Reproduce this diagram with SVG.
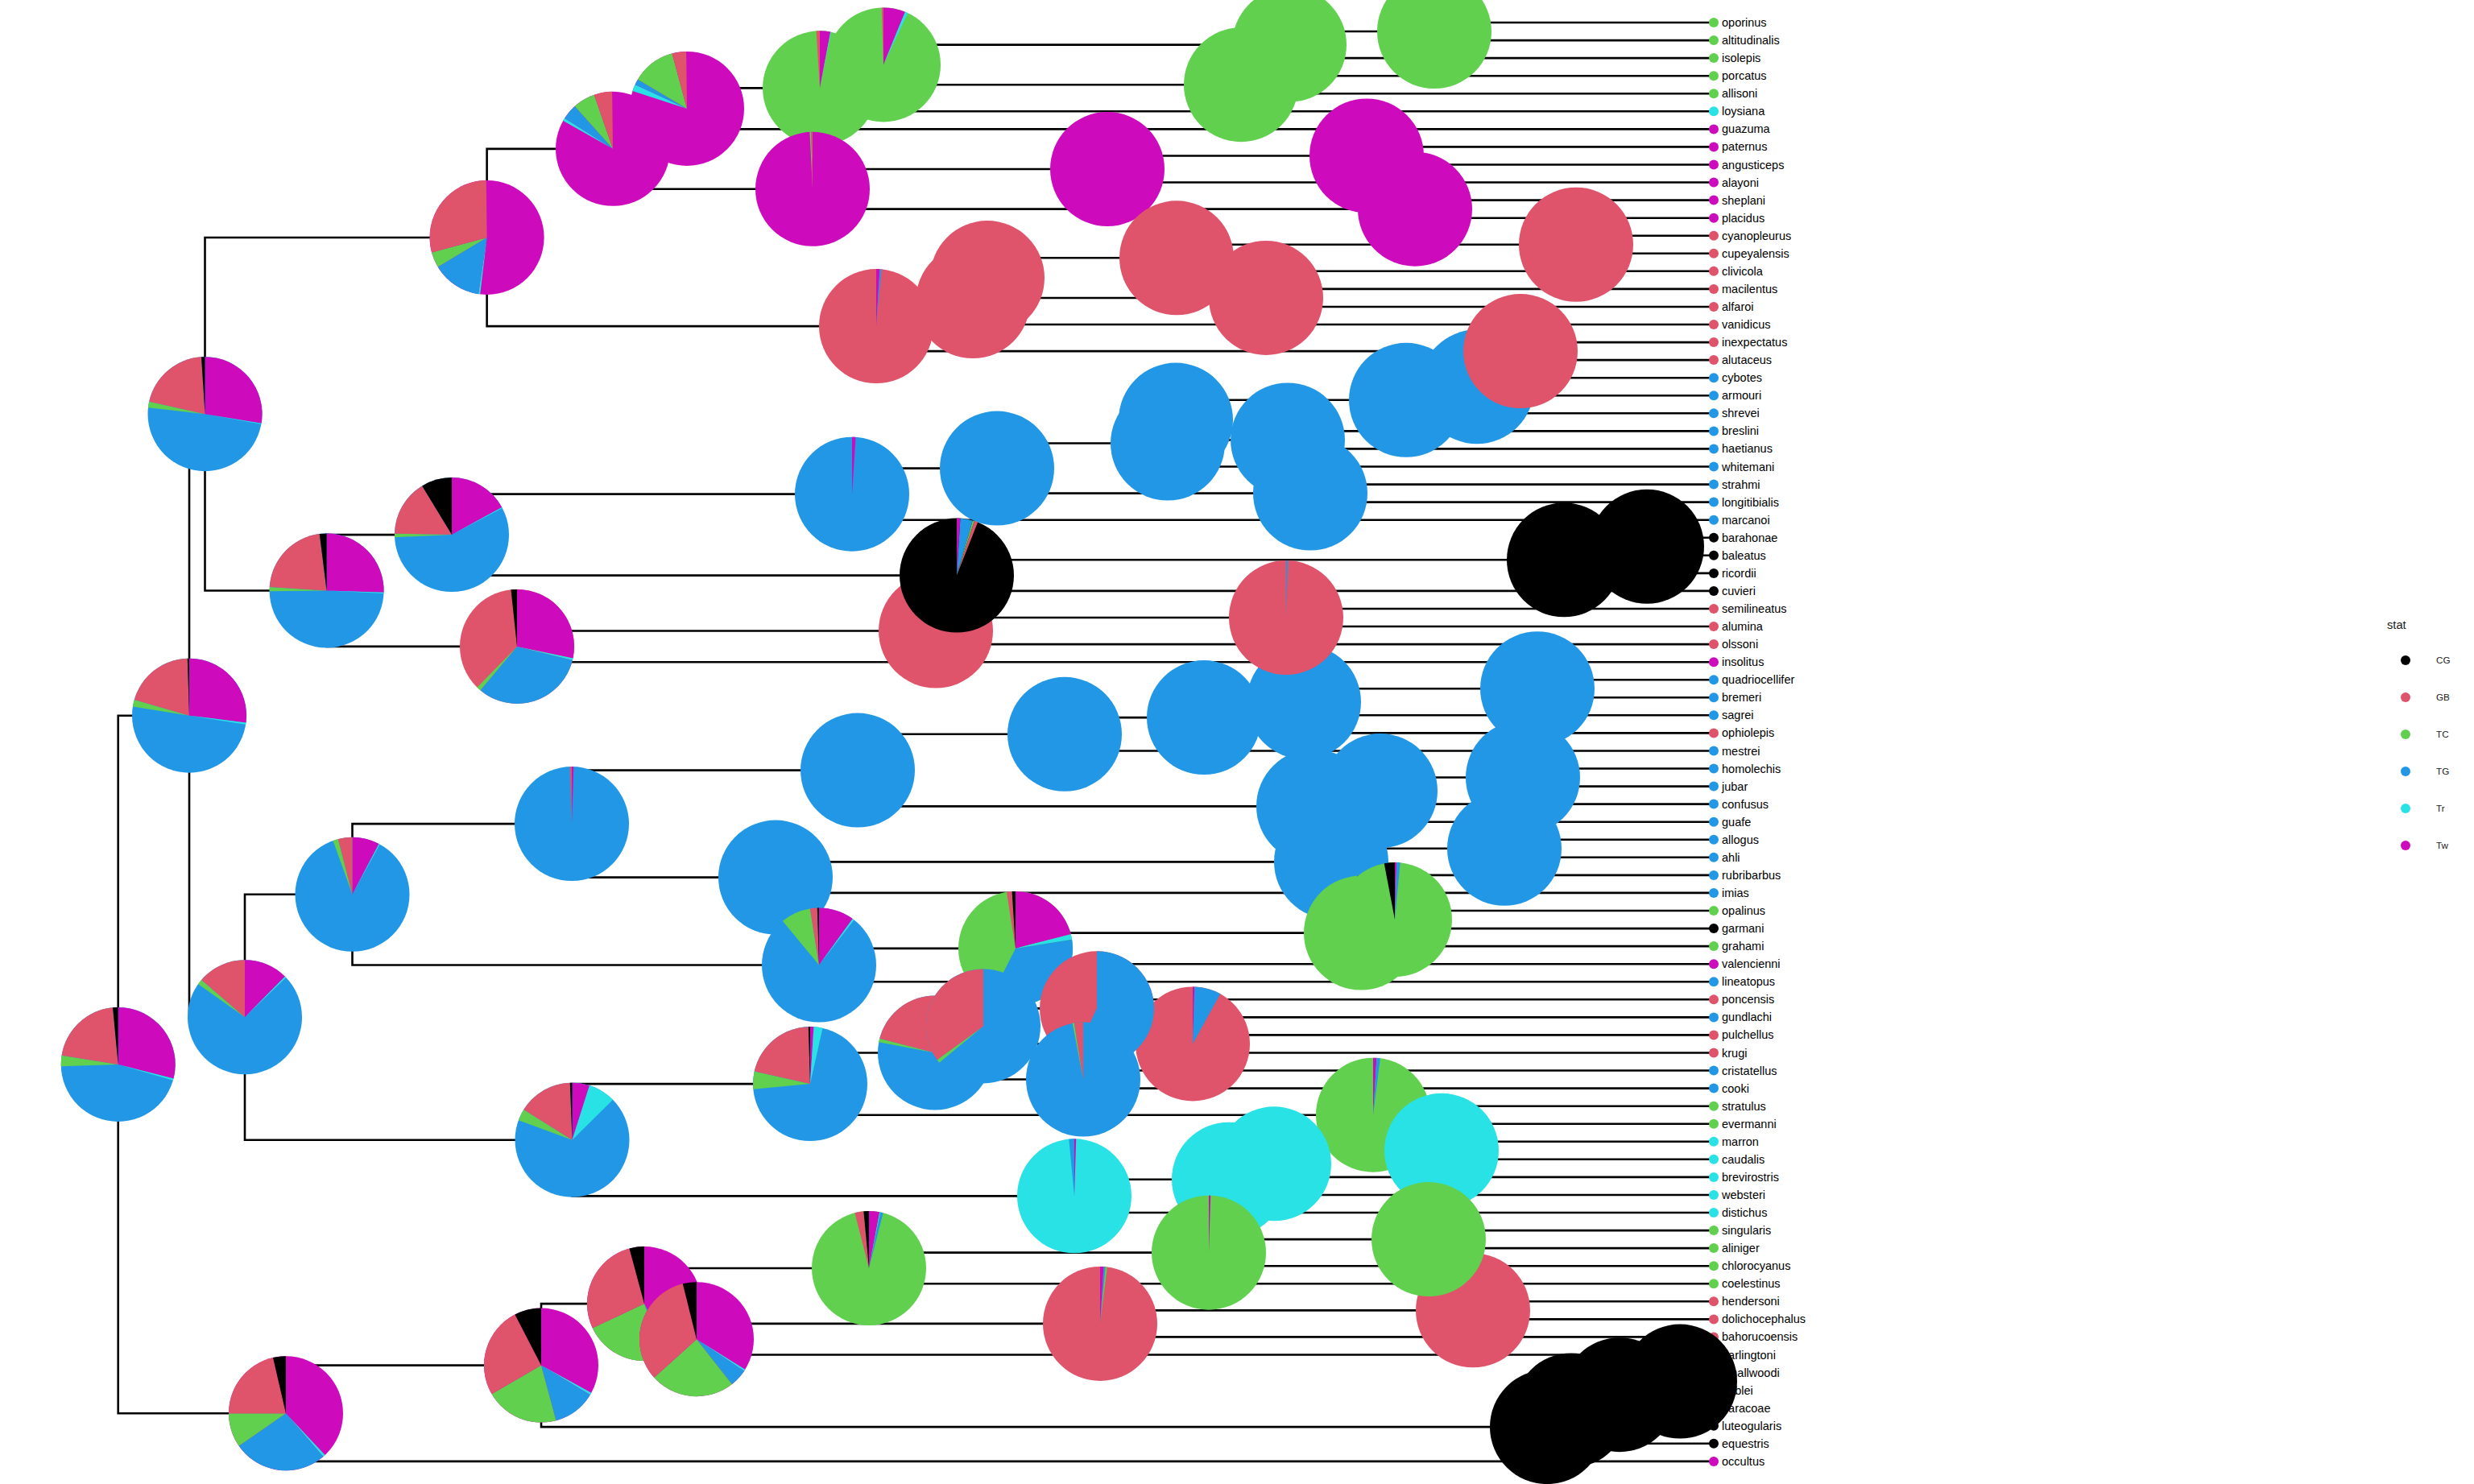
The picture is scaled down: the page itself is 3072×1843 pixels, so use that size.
<svg xmlns="http://www.w3.org/2000/svg" width="3072" height="1843" viewBox="0 0 3072 1843">
<style>
.cg{fill:#000000}.gb{fill:#DF536B}.tc{fill:#61D04F}.tg{fill:#2297E6}.tr{fill:#28E2E5}.tw{fill:#CD0BBC}
.e{fill:none;stroke:#000;stroke-width:2.6;stroke-linecap:square}
.lab{font-family:"Liberation Sans",Arial,sans-serif;font-size:14.5px;fill:#000}
.lg{font-family:"Liberation Sans",Arial,sans-serif;font-size:11.7px;fill:#1a1a1a}
.lt{font-family:"Liberation Sans",Arial,sans-serif;font-size:14.7px;fill:#1a1a1a}
</style>
<rect width="3072" height="1843" fill="#fff"/>
<g id="connectors">
<path class="e" d="M146.7,888.7V1755.25M146.7,888.7H235M146.7,1755.25H355"/>
<path class="e" d="M235,514.2V1263.25M235,514.2H254.5M235,1263.25H304"/>
<path class="e" d="M355,1695.6V1814.9M355,1695.6H672M355,1814.9H2128"/>
<path class="e" d="M254.5,294.95V733.5M254.5,294.95H604.6M254.5,733.5H405.6"/>
<path class="e" d="M604.6,184.85V405.1M604.6,184.85H761M604.6,405.1H1088"/>
<path class="e" d="M761,134.9V234.8M761,134.9H853M761,234.8H1009"/>
<path class="e" d="M853,109.35V160.4M853,109.35H1018M853,160.4H2128"/>
<path class="e" d="M1018,80.4V138.3M1018,80.4H1097M1018,138.3H2128"/>
<path class="e" d="M1097,55.6V105.2M1097,55.6H1601M1097,105.2H1541"/>
<path class="e" d="M1601,39.05V72.1M1601,39.05H1781M1601,72.1H2128"/>
<path class="e" d="M1781,28V50.1M1781,28H2128M1781,50.1H2128"/>
<path class="e" d="M1541,94.2V116.2M1541,94.2H2128M1541,116.2H2128"/>
<path class="e" d="M1009,210V259.65M1009,210H1375M1009,259.65H1757"/>
<path class="e" d="M1375,193.45V226.5M1375,193.45H1697M1375,226.5H2128"/>
<path class="e" d="M1697,182.4V204.5M1697,182.4H2128M1697,204.5H2128"/>
<path class="e" d="M1757,248.6V270.7M1757,248.6H2128M1757,270.7H2128"/>
<path class="e" d="M1088,374.05V436.1M1088,374.05H1208M1088,436.1H1888"/>
<path class="e" d="M1208,345.1V403M1208,345.1H1226M1208,403H2128"/>
<path class="e" d="M1226,320.3V369.95M1226,320.3H1461M1226,369.95H1572"/>
<path class="e" d="M1461,303.75V336.8M1461,303.75H1957M1461,336.8H2128"/>
<path class="e" d="M1957,292.7V314.8M1957,292.7H2128M1957,314.8H2128"/>
<path class="e" d="M1572,358.9V381M1572,358.9H2128M1572,381H2128"/>
<path class="e" d="M1888,425.1V447.1M1888,425.1H2128M1888,447.1H2128"/>
<path class="e" d="M405.6,664.1V802.9M405.6,664.1H561M405.6,802.9H642"/>
<path class="e" d="M561,613.65V714.6M561,613.65H1058M561,714.6H1188"/>
<path class="e" d="M1058,581.6V645.7M1058,581.6H1238M1058,645.7H2128"/>
<path class="e" d="M1238,550.55V612.6M1238,550.55H1450M1238,612.6H1627"/>
<path class="e" d="M1450,521.6V579.5M1450,521.6H1460M1450,579.5H2128"/>
<path class="e" d="M1460,496.8V546.4M1460,496.8H1746M1460,546.4H1599"/>
<path class="e" d="M1746,480.25V513.3M1746,480.25H1834M1746,513.3H2128"/>
<path class="e" d="M1834,469.2V491.3M1834,469.2H2128M1834,491.3H2128"/>
<path class="e" d="M1599,535.4V557.4M1599,535.4H2128M1599,557.4H2128"/>
<path class="e" d="M1627,601.6V623.6M1627,601.6H2128M1627,623.6H2128"/>
<path class="e" d="M1188,695.3V733.9M1188,695.3H1942M1188,733.9H2128"/>
<path class="e" d="M1942,678.75V711.9M1942,678.75H2045M1942,711.9H2128"/>
<path class="e" d="M2045,667.7V689.8M2045,667.7H2128M2045,689.8H2128"/>
<path class="e" d="M642,783.55V822.2M642,783.55H1162M642,822.2H2128"/>
<path class="e" d="M1162,767V800.1M1162,767H1597M1162,800.1H2128"/>
<path class="e" d="M1597,756V778M1597,756H2128M1597,778H2128"/>
<path class="e" d="M304,1110.8V1415.7M304,1110.8H437.5M304,1415.7H710.5"/>
<path class="e" d="M437.5,1023.1V1198.55M437.5,1023.1H710M437.5,1198.55H1017"/>
<path class="e" d="M710,956.6V1089.6M710,956.6H1065M710,1089.6H963"/>
<path class="e" d="M1065,911.8V1001.4M1065,911.8H1322M1065,1001.4H1631"/>
<path class="e" d="M1322,891.1V932.5M1322,891.1H1495M1322,932.5H2128"/>
<path class="e" d="M1495,871.8V910.4M1495,871.8H1619M1495,910.4H2128"/>
<path class="e" d="M1619,855.25V888.3M1619,855.25H1909M1619,888.3H2128"/>
<path class="e" d="M1909,844.2V866.3M1909,844.2H2128M1909,866.3H2128"/>
<path class="e" d="M1631,982.1V1020.7M1631,982.1H1714M1631,1020.7H2128"/>
<path class="e" d="M1714,965.55V998.6M1714,965.55H1891M1714,998.6H2128"/>
<path class="e" d="M1891,954.5V976.6M1891,954.5H2128M1891,976.6H2128"/>
<path class="e" d="M963,1070.35V1108.9M963,1070.35H1653M963,1108.9H2128"/>
<path class="e" d="M1653,1053.8V1086.9M1653,1053.8H1868M1653,1086.9H2128"/>
<path class="e" d="M1868,1042.8V1064.8M1868,1042.8H2128M1868,1064.8H2128"/>
<path class="e" d="M1017,1177.9V1219.2M1017,1177.9H1261M1017,1219.2H2128"/>
<path class="e" d="M1261,1158.6V1197.2M1261,1158.6H1690M1261,1197.2H2128"/>
<path class="e" d="M1690,1142.05V1175.1M1690,1142.05H1732M1690,1175.1H2128"/>
<path class="e" d="M1732,1131V1153.1M1732,1131H2128M1732,1153.1H2128"/>
<path class="e" d="M710.5,1346.1V1485.35M710.5,1346.1H1006M710.5,1485.35H1334"/>
<path class="e" d="M1006,1307.5V1384.7M1006,1307.5H1161M1006,1384.7H1705"/>
<path class="e" d="M1161,1274.4V1340.55M1161,1274.4H1221M1161,1340.55H1345"/>
<path class="e" d="M1221,1252.35V1296.45M1221,1252.35H1362M1221,1296.45H1481"/>
<path class="e" d="M1362,1241.3V1263.4M1362,1241.3H2128M1362,1263.4H2128"/>
<path class="e" d="M1481,1285.4V1307.5M1481,1285.4H2128M1481,1307.5H2128"/>
<path class="e" d="M1345,1329.5V1351.6M1345,1329.5H2128M1345,1351.6H2128"/>
<path class="e" d="M1705,1373.7V1395.7M1705,1373.7H2128M1705,1395.7H2128"/>
<path class="e" d="M1334,1464.7V1506M1334,1464.7H1526M1334,1506H2128"/>
<path class="e" d="M1526,1445.35V1484M1526,1445.35H1582M1526,1484H2128"/>
<path class="e" d="M1582,1428.8V1461.9M1582,1428.8H1790M1582,1461.9H2128"/>
<path class="e" d="M1790,1417.8V1439.8M1790,1417.8H2128M1790,1439.8H2128"/>
<path class="e" d="M672,1619.1V1772.1M672,1619.1H800M672,1772.1H1921"/>
<path class="e" d="M800,1575V1663.2M800,1575H1079M800,1663.2H865"/>
<path class="e" d="M1079,1555.65V1594.3M1079,1555.65H1501M1079,1594.3H2128"/>
<path class="e" d="M1501,1539.1V1572.2M1501,1539.1H1774M1501,1572.2H2128"/>
<path class="e" d="M1774,1528.1V1550.1M1774,1528.1H2128M1774,1550.1H2128"/>
<path class="e" d="M865,1643.9V1682.5M865,1643.9H1366M865,1682.5H2128"/>
<path class="e" d="M1366,1627.35V1660.4M1366,1627.35H1829M1366,1660.4H2128"/>
<path class="e" d="M1829,1616.3V1638.4M1829,1616.3H2128M1829,1638.4H2128"/>
<path class="e" d="M1921,1751.4V1792.8M1921,1751.4H1951M1921,1792.8H2128"/>
<path class="e" d="M1951,1732.15V1770.7M1951,1732.15H2011M1951,1770.7H2128"/>
<path class="e" d="M2011,1715.6V1748.7M2011,1715.6H2086M2011,1748.7H2128"/>
<path class="e" d="M2086,1704.6V1726.6M2086,1704.6H2128M2086,1726.6H2128"/>
</g>
<g id="tips">
<g id="tip-oporinus"><circle class="tc" cx="2128" cy="28" r="6"/><text class="lab" x="2138" y="33">oporinus</text></g>
<g id="tip-altitudinalis"><circle class="tc" cx="2128" cy="50.1" r="6"/><text class="lab" x="2138" y="55.1">altitudinalis</text></g>
<g id="tip-isolepis"><circle class="tc" cx="2128" cy="72.1" r="6"/><text class="lab" x="2138" y="77.1">isolepis</text></g>
<g id="tip-porcatus"><circle class="tc" cx="2128" cy="94.2" r="6"/><text class="lab" x="2138" y="99.2">porcatus</text></g>
<g id="tip-allisoni"><circle class="tc" cx="2128" cy="116.2" r="6"/><text class="lab" x="2138" y="121.2">allisoni</text></g>
<g id="tip-loysiana"><circle class="tr" cx="2128" cy="138.3" r="6"/><text class="lab" x="2138" y="143.3">loysiana</text></g>
<g id="tip-guazuma"><circle class="tw" cx="2128" cy="160.4" r="6"/><text class="lab" x="2138" y="165.4">guazuma</text></g>
<g id="tip-paternus"><circle class="tw" cx="2128" cy="182.4" r="6"/><text class="lab" x="2138" y="187.4">paternus</text></g>
<g id="tip-angusticeps"><circle class="tw" cx="2128" cy="204.5" r="6"/><text class="lab" x="2138" y="209.5">angusticeps</text></g>
<g id="tip-alayoni"><circle class="tw" cx="2128" cy="226.5" r="6"/><text class="lab" x="2138" y="231.5">alayoni</text></g>
<g id="tip-sheplani"><circle class="tw" cx="2128" cy="248.6" r="6"/><text class="lab" x="2138" y="253.6">sheplani</text></g>
<g id="tip-placidus"><circle class="tw" cx="2128" cy="270.7" r="6"/><text class="lab" x="2138" y="275.7">placidus</text></g>
<g id="tip-cyanopleurus"><circle class="gb" cx="2128" cy="292.7" r="6"/><text class="lab" x="2138" y="297.7">cyanopleurus</text></g>
<g id="tip-cupeyalensis"><circle class="gb" cx="2128" cy="314.8" r="6"/><text class="lab" x="2138" y="319.8">cupeyalensis</text></g>
<g id="tip-clivicola"><circle class="gb" cx="2128" cy="336.8" r="6"/><text class="lab" x="2138" y="341.8">clivicola</text></g>
<g id="tip-macilentus"><circle class="gb" cx="2128" cy="358.9" r="6"/><text class="lab" x="2138" y="363.9">macilentus</text></g>
<g id="tip-alfaroi"><circle class="gb" cx="2128" cy="381" r="6"/><text class="lab" x="2138" y="386">alfaroi</text></g>
<g id="tip-vanidicus"><circle class="gb" cx="2128" cy="403" r="6"/><text class="lab" x="2138" y="408">vanidicus</text></g>
<g id="tip-inexpectatus"><circle class="gb" cx="2128" cy="425.1" r="6"/><text class="lab" x="2138" y="430.1">inexpectatus</text></g>
<g id="tip-alutaceus"><circle class="gb" cx="2128" cy="447.1" r="6"/><text class="lab" x="2138" y="452.1">alutaceus</text></g>
<g id="tip-cybotes"><circle class="tg" cx="2128" cy="469.2" r="6"/><text class="lab" x="2138" y="474.2">cybotes</text></g>
<g id="tip-armouri"><circle class="tg" cx="2128" cy="491.3" r="6"/><text class="lab" x="2138" y="496.3">armouri</text></g>
<g id="tip-shrevei"><circle class="tg" cx="2128" cy="513.3" r="6"/><text class="lab" x="2138" y="518.3">shrevei</text></g>
<g id="tip-breslini"><circle class="tg" cx="2128" cy="535.4" r="6"/><text class="lab" x="2138" y="540.4">breslini</text></g>
<g id="tip-haetianus"><circle class="tg" cx="2128" cy="557.4" r="6"/><text class="lab" x="2138" y="562.4">haetianus</text></g>
<g id="tip-whitemani"><circle class="tg" cx="2128" cy="579.5" r="6"/><text class="lab" x="2138" y="584.5">whitemani</text></g>
<g id="tip-strahmi"><circle class="tg" cx="2128" cy="601.6" r="6"/><text class="lab" x="2138" y="606.6">strahmi</text></g>
<g id="tip-longitibialis"><circle class="tg" cx="2128" cy="623.6" r="6"/><text class="lab" x="2138" y="628.6">longitibialis</text></g>
<g id="tip-marcanoi"><circle class="tg" cx="2128" cy="645.7" r="6"/><text class="lab" x="2138" y="650.7">marcanoi</text></g>
<g id="tip-barahonae"><circle class="cg" cx="2128" cy="667.7" r="6"/><text class="lab" x="2138" y="672.7">barahonae</text></g>
<g id="tip-baleatus"><circle class="cg" cx="2128" cy="689.8" r="6"/><text class="lab" x="2138" y="694.8">baleatus</text></g>
<g id="tip-ricordii"><circle class="cg" cx="2128" cy="711.9" r="6"/><text class="lab" x="2138" y="716.9">ricordii</text></g>
<g id="tip-cuvieri"><circle class="cg" cx="2128" cy="733.9" r="6"/><text class="lab" x="2138" y="738.9">cuvieri</text></g>
<g id="tip-semilineatus"><circle class="gb" cx="2128" cy="756" r="6"/><text class="lab" x="2138" y="761">semilineatus</text></g>
<g id="tip-alumina"><circle class="gb" cx="2128" cy="778" r="6"/><text class="lab" x="2138" y="783">alumina</text></g>
<g id="tip-olssoni"><circle class="gb" cx="2128" cy="800.1" r="6"/><text class="lab" x="2138" y="805.1">olssoni</text></g>
<g id="tip-insolitus"><circle class="tw" cx="2128" cy="822.2" r="6"/><text class="lab" x="2138" y="827.2">insolitus</text></g>
<g id="tip-quadriocellifer"><circle class="tg" cx="2128" cy="844.2" r="6"/><text class="lab" x="2138" y="849.2">quadriocellifer</text></g>
<g id="tip-bremeri"><circle class="tg" cx="2128" cy="866.3" r="6"/><text class="lab" x="2138" y="871.3">bremeri</text></g>
<g id="tip-sagrei"><circle class="tg" cx="2128" cy="888.3" r="6"/><text class="lab" x="2138" y="893.3">sagrei</text></g>
<g id="tip-ophiolepis"><circle class="gb" cx="2128" cy="910.4" r="6"/><text class="lab" x="2138" y="915.4">ophiolepis</text></g>
<g id="tip-mestrei"><circle class="tg" cx="2128" cy="932.5" r="6"/><text class="lab" x="2138" y="937.5">mestrei</text></g>
<g id="tip-homolechis"><circle class="tg" cx="2128" cy="954.5" r="6"/><text class="lab" x="2138" y="959.5">homolechis</text></g>
<g id="tip-jubar"><circle class="tg" cx="2128" cy="976.6" r="6"/><text class="lab" x="2138" y="981.6">jubar</text></g>
<g id="tip-confusus"><circle class="tg" cx="2128" cy="998.6" r="6"/><text class="lab" x="2138" y="1003.6">confusus</text></g>
<g id="tip-guafe"><circle class="tg" cx="2128" cy="1020.7" r="6"/><text class="lab" x="2138" y="1025.7">guafe</text></g>
<g id="tip-allogus"><circle class="tg" cx="2128" cy="1042.8" r="6"/><text class="lab" x="2138" y="1047.8">allogus</text></g>
<g id="tip-ahli"><circle class="tg" cx="2128" cy="1064.8" r="6"/><text class="lab" x="2138" y="1069.8">ahli</text></g>
<g id="tip-rubribarbus"><circle class="tg" cx="2128" cy="1086.9" r="6"/><text class="lab" x="2138" y="1091.9">rubribarbus</text></g>
<g id="tip-imias"><circle class="tg" cx="2128" cy="1108.9" r="6"/><text class="lab" x="2138" y="1113.9">imias</text></g>
<g id="tip-opalinus"><circle class="tc" cx="2128" cy="1131" r="6"/><text class="lab" x="2138" y="1136">opalinus</text></g>
<g id="tip-garmani"><circle class="cg" cx="2128" cy="1153.1" r="6"/><text class="lab" x="2138" y="1158.1">garmani</text></g>
<g id="tip-grahami"><circle class="tc" cx="2128" cy="1175.1" r="6"/><text class="lab" x="2138" y="1180.1">grahami</text></g>
<g id="tip-valencienni"><circle class="tw" cx="2128" cy="1197.2" r="6"/><text class="lab" x="2138" y="1202.2">valencienni</text></g>
<g id="tip-lineatopus"><circle class="tg" cx="2128" cy="1219.2" r="6"/><text class="lab" x="2138" y="1224.2">lineatopus</text></g>
<g id="tip-poncensis"><circle class="gb" cx="2128" cy="1241.3" r="6"/><text class="lab" x="2138" y="1246.3">poncensis</text></g>
<g id="tip-gundlachi"><circle class="tg" cx="2128" cy="1263.4" r="6"/><text class="lab" x="2138" y="1268.4">gundlachi</text></g>
<g id="tip-pulchellus"><circle class="gb" cx="2128" cy="1285.4" r="6"/><text class="lab" x="2138" y="1290.4">pulchellus</text></g>
<g id="tip-krugi"><circle class="gb" cx="2128" cy="1307.5" r="6"/><text class="lab" x="2138" y="1312.5">krugi</text></g>
<g id="tip-cristatellus"><circle class="tg" cx="2128" cy="1329.5" r="6"/><text class="lab" x="2138" y="1334.5">cristatellus</text></g>
<g id="tip-cooki"><circle class="tg" cx="2128" cy="1351.6" r="6"/><text class="lab" x="2138" y="1356.6">cooki</text></g>
<g id="tip-stratulus"><circle class="tc" cx="2128" cy="1373.7" r="6"/><text class="lab" x="2138" y="1378.7">stratulus</text></g>
<g id="tip-evermanni"><circle class="tc" cx="2128" cy="1395.7" r="6"/><text class="lab" x="2138" y="1400.7">evermanni</text></g>
<g id="tip-marron"><circle class="tr" cx="2128" cy="1417.8" r="6"/><text class="lab" x="2138" y="1422.8">marron</text></g>
<g id="tip-caudalis"><circle class="tr" cx="2128" cy="1439.8" r="6"/><text class="lab" x="2138" y="1444.8">caudalis</text></g>
<g id="tip-brevirostris"><circle class="tr" cx="2128" cy="1461.9" r="6"/><text class="lab" x="2138" y="1466.9">brevirostris</text></g>
<g id="tip-websteri"><circle class="tr" cx="2128" cy="1484" r="6"/><text class="lab" x="2138" y="1489">websteri</text></g>
<g id="tip-distichus"><circle class="tr" cx="2128" cy="1506" r="6"/><text class="lab" x="2138" y="1511">distichus</text></g>
<g id="tip-singularis"><circle class="tc" cx="2128" cy="1528.1" r="6"/><text class="lab" x="2138" y="1533.1">singularis</text></g>
<g id="tip-aliniger"><circle class="tc" cx="2128" cy="1550.1" r="6"/><text class="lab" x="2138" y="1555.1">aliniger</text></g>
<g id="tip-chlorocyanus"><circle class="tc" cx="2128" cy="1572.2" r="6"/><text class="lab" x="2138" y="1577.2">chlorocyanus</text></g>
<g id="tip-coelestinus"><circle class="tc" cx="2128" cy="1594.3" r="6"/><text class="lab" x="2138" y="1599.3">coelestinus</text></g>
<g id="tip-hendersoni"><circle class="gb" cx="2128" cy="1616.3" r="6"/><text class="lab" x="2138" y="1621.3">hendersoni</text></g>
<g id="tip-dolichocephalus"><circle class="gb" cx="2128" cy="1638.4" r="6"/><text class="lab" x="2138" y="1643.4">dolichocephalus</text></g>
<g id="tip-bahorucoensis"><circle class="gb" cx="2128" cy="1660.4" r="6"/><text class="lab" x="2138" y="1665.4">bahorucoensis</text></g>
<g id="tip-darlingtoni"><circle class="gb" cx="2128" cy="1682.5" r="6"/><text class="lab" x="2138" y="1687.5">darlingtoni</text></g>
<g id="tip-smallwoodi"><circle class="cg" cx="2128" cy="1704.6" r="6"/><text class="lab" x="2138" y="1709.6">smallwoodi</text></g>
<g id="tip-noblei"><circle class="cg" cx="2128" cy="1726.6" r="6"/><text class="lab" x="2138" y="1731.6">noblei</text></g>
<g id="tip-baracoae"><circle class="cg" cx="2128" cy="1748.7" r="6"/><text class="lab" x="2138" y="1753.7">baracoae</text></g>
<g id="tip-luteogularis"><circle class="cg" cx="2128" cy="1770.7" r="6"/><text class="lab" x="2138" y="1775.7">luteogularis</text></g>
<g id="tip-equestris"><circle class="cg" cx="2128" cy="1792.8" r="6"/><text class="lab" x="2138" y="1797.8">equestris</text></g>
<g id="tip-occultus"><circle class="tw" cx="2128" cy="1814.9" r="6"/><text class="lab" x="2138" y="1819.9">occultus</text></g>
</g>
<g id="pies">
<g id="node-root"><circle class="tg" cx="146.7" cy="1321.95" r="71"/>
<path class="tw" d="M146.7,1321.95L146.7,1250.95A71,71 0 0 1 215.47,1339.61Z"/>
<path class="tr" d="M146.7,1321.95L215.47,1339.61A71,71 0 0 1 214.88,1341.76Z"/>
<path class="tc" d="M146.7,1321.95L75.74,1324.18A71,71 0 0 1 76.57,1310.85Z"/>
<path class="gb" d="M146.7,1321.95L76.57,1310.85A71,71 0 0 1 140.02,1251.26Z"/>
<path class="cg" d="M146.7,1321.95L140.02,1251.26A71,71 0 0 1 146.7,1250.95Z"/></g>
<g id="node-A"><circle class="tg" cx="235" cy="888.7" r="71"/>
<path class="tw" d="M235,888.7L235,817.7A71,71 0 0 1 305.44,897.6Z"/>
<path class="tr" d="M235,888.7L305.44,897.6A71,71 0 0 1 305.13,899.8Z"/>
<path class="tc" d="M235,888.7L164.87,877.6A71,71 0 0 1 166.82,868.89Z"/>
<path class="gb" d="M235,888.7L166.82,868.89A71,71 0 0 1 232.77,817.74Z"/>
<path class="cg" d="M235,888.7L232.77,817.74A71,71 0 0 1 235,817.7Z"/></g>
<g id="node-Pi"><circle class="tg" cx="304" cy="1263.25" r="71"/>
<path class="tw" d="M304,1263.25L304,1192.25A71,71 0 0 1 353.86,1212.7Z"/>
<path class="tr" d="M304,1263.25L353.86,1212.7A71,71 0 0 1 355.16,1214.02Z"/>
<path class="tc" d="M304,1263.25L246.06,1222.22A71,71 0 0 1 250.17,1216.95Z"/>
<path class="gb" d="M304,1263.25L250.17,1216.95A71,71 0 0 1 304,1192.25Z"/></g>
<g id="node-U"><circle class="tg" cx="437.5" cy="1110.8" r="71"/>
<path class="tw" d="M437.5,1110.8L437.5,1039.8A71,71 0 0 1 470.5,1047.94Z"/>
<path class="tr" d="M437.5,1110.8L470.5,1047.94A71,71 0 0 1 471.71,1048.58Z"/>
<path class="tc" d="M437.5,1110.8L413.45,1043.99A71,71 0 0 1 419.84,1042.03Z"/>
<path class="gb" d="M437.5,1110.8L419.84,1042.03A71,71 0 0 1 437.5,1039.8Z"/></g>
<g id="node-W"><circle class="tg" cx="710" cy="1023.1" r="71"/>
<path class="tw" d="M710,1023.1L710,952.1A71,71 0 0 1 712.23,952.13Z"/>
<path class="gb" d="M710,1023.1L707.77,952.13A71,71 0 0 1 710,952.1Z"/></g>
<g id="node-W1"><circle class="tg" cx="1065" cy="956.6" r="71"/></g>
<g id="node-Y4"><circle class="tg" cx="1322" cy="911.8" r="71"/></g>
<g id="node-Y3"><circle class="tg" cx="1495" cy="891.1" r="71"/></g>
<g id="node-Y2"><circle class="tg" cx="1619" cy="871.8" r="71"/></g>
<g id="node-Y1"><circle class="tg" cx="1909" cy="855.25" r="71"/></g>
<g id="node-Y8"><circle class="tg" cx="1631" cy="1001.4" r="71"/></g>
<g id="node-Y6"><circle class="tg" cx="1714" cy="982.1" r="71"/></g>
<g id="node-Y5"><circle class="tg" cx="1891" cy="965.55" r="71"/></g>
<g id="node-W2"><circle class="tg" cx="963" cy="1089.6" r="71"/></g>
<g id="node-Y9"><circle class="tg" cx="1653" cy="1070.35" r="71"/></g>
<g id="node-Y7"><circle class="tg" cx="1868" cy="1053.8" r="71"/></g>
<g id="node-X0"><circle class="tg" cx="1017" cy="1198.55" r="71"/>
<path class="tw" d="M1017,1198.55L1017,1127.55A71,71 0 0 1 1058.73,1141.11Z"/>
<path class="tr" d="M1017,1198.55L1058.73,1141.11A71,71 0 0 1 1060.52,1142.45Z"/>
<path class="tc" d="M1017,1198.55L971.74,1143.84A71,71 0 0 1 1005.9,1128.42Z"/>
<path class="gb" d="M1017,1198.55L1005.9,1128.42A71,71 0 0 1 1014.77,1127.58Z"/>
<path class="cg" d="M1017,1198.55L1014.77,1127.58A71,71 0 0 1 1017,1127.55Z"/></g>
<g id="node-X1"><circle class="tc" cx="1261" cy="1177.9" r="71"/>
<path class="tw" d="M1261,1177.9L1261,1106.9A71,71 0 0 1 1329.77,1160.24Z"/>
<path class="tr" d="M1261,1177.9L1329.77,1160.24A71,71 0 0 1 1331.13,1166.8Z"/>
<path class="tg" d="M1261,1177.9L1331.13,1166.8A71,71 0 0 1 1228.77,1241.16Z"/>
<path class="gb" d="M1261,1177.9L1249.9,1107.77A71,71 0 0 1 1256.54,1107.04Z"/>
<path class="cg" d="M1261,1177.9L1256.54,1107.04A71,71 0 0 1 1261,1106.9Z"/></g>
<g id="node-X2"><circle class="tc" cx="1690" cy="1158.6" r="71"/>
<path class="cg" d="M1690,1158.6L1685.54,1087.74A71,71 0 0 1 1690,1087.6Z"/></g>
<g id="node-X3"><circle class="tc" cx="1732" cy="1142.05" r="71"/>
<path class="tw" d="M1732,1142.05L1732,1071.05A71,71 0 0 1 1734.23,1071.09Z"/>
<path class="tg" d="M1732,1142.05L1734.23,1071.09A71,71 0 0 1 1738.68,1071.36Z"/>
<path class="cg" d="M1732,1142.05L1718.7,1072.31A71,71 0 0 1 1732,1071.05Z"/></g>
<g id="node-V"><circle class="tg" cx="710.5" cy="1415.7" r="71"/>
<path class="tw" d="M710.5,1415.7L710.5,1344.7A71,71 0 0 1 731.97,1348.02Z"/>
<path class="tr" d="M710.5,1415.7L731.97,1348.02A71,71 0 0 1 761.05,1365.84Z"/>
<path class="tc" d="M710.5,1415.7L643.87,1391.18A71,71 0 0 1 650.29,1378.08Z"/>
<path class="gb" d="M710.5,1415.7L650.29,1378.08A71,71 0 0 1 707.77,1344.75Z"/>
<path class="cg" d="M710.5,1415.7L707.77,1344.75A71,71 0 0 1 710.5,1344.7Z"/></g>
<g id="node-Z0"><circle class="tg" cx="1006" cy="1346.1" r="71"/>
<path class="tw" d="M1006,1346.1L1006,1275.1A71,71 0 0 1 1010.46,1275.24Z"/>
<path class="tr" d="M1006,1346.1L1010.46,1275.24A71,71 0 0 1 1021.49,1276.81Z"/>
<path class="tc" d="M1006,1346.1L935.31,1352.78A71,71 0 0 1 936.71,1330.62Z"/>
<path class="gb" d="M1006,1346.1L936.71,1330.62A71,71 0 0 1 1003.77,1275.13Z"/>
<path class="cg" d="M1006,1346.1L1003.77,1275.13A71,71 0 0 1 1006,1275.1Z"/></g>
<g id="node-Za"><circle class="tg" cx="1161" cy="1307.5" r="71"/>
<path class="tw" d="M1161,1307.5L1161,1236.5A71,71 0 0 1 1163.23,1236.54Z"/>
<path class="tr" d="M1161,1307.5L1163.23,1236.54A71,71 0 0 1 1165.46,1236.64Z"/>
<path class="tc" d="M1161,1307.5L1091.26,1294.2A71,71 0 0 1 1092.23,1289.84Z"/>
<path class="gb" d="M1161,1307.5L1092.23,1289.84A71,71 0 0 1 1161,1236.5Z"/></g>
<g id="node-Zb"><circle class="tg" cx="1221" cy="1274.4" r="71"/>
<path class="tc" d="M1221,1274.4L1166.3,1319.66A71,71 0 0 1 1163.56,1316.13Z"/>
<path class="gb" d="M1221,1274.4L1163.56,1316.13A71,71 0 0 1 1221,1203.4Z"/></g>
<g id="node-Zd"><circle class="gb" cx="1481" cy="1296.45" r="71"/>
<path class="tw" d="M1481,1296.45L1481,1225.45A71,71 0 0 1 1483.23,1225.49Z"/>
<path class="tg" d="M1481,1296.45L1483.23,1225.49A71,71 0 0 1 1515.21,1234.23Z"/></g>
<g id="node-Ze"><circle class="gb" cx="1362" cy="1252.35" r="71"/>
<path class="tg" d="M1362,1252.35L1362,1181.35A71,71 0 1 1 1331.77,1316.59Z"/></g>
<g id="node-Zc"><circle class="tg" cx="1345" cy="1340.55" r="71"/>
<path class="tc" d="M1345,1340.55L1331.7,1270.81A71,71 0 0 1 1333.9,1270.42Z"/>
<path class="gb" d="M1345,1340.55L1333.9,1270.42A71,71 0 0 1 1345,1269.55Z"/></g>
<g id="node-Zs"><circle class="tc" cx="1705" cy="1384.7" r="71"/>
<path class="tw" d="M1705,1384.7L1705,1313.7A71,71 0 0 1 1709.46,1313.84Z"/>
<path class="tg" d="M1705,1384.7L1709.46,1313.84A71,71 0 0 1 1713.9,1314.26Z"/></g>
<g id="node-Tr0"><circle class="tr" cx="1334" cy="1485.35" r="71"/>
<path class="tw" d="M1334,1485.35L1334,1414.35A71,71 0 0 1 1336.23,1414.39Z"/>
<path class="tg" d="M1334,1485.35L1327.32,1414.66A71,71 0 0 1 1334,1414.35Z"/></g>
<g id="node-Tr1"><circle class="tr" cx="1526" cy="1464.7" r="71"/></g>
<g id="node-Tr2"><circle class="tr" cx="1582" cy="1445.35" r="71"/></g>
<g id="node-Tr3"><circle class="tr" cx="1790" cy="1428.8" r="71"/></g>
<g id="node-Pa"><circle class="tg" cx="254.5" cy="514.2" r="71"/>
<path class="tw" d="M254.5,514.2L254.5,443.2A71,71 0 0 1 324.55,525.79Z"/>
<path class="tr" d="M254.5,514.2L324.55,525.79A71,71 0 0 1 324.4,526.65Z"/>
<path class="tc" d="M254.5,514.2L183.96,506.16A71,71 0 0 1 185.21,498.71Z"/>
<path class="gb" d="M254.5,514.2L185.21,498.71A71,71 0 0 1 250.04,443.34Z"/>
<path class="cg" d="M254.5,514.2L250.04,443.34A71,71 0 0 1 254.5,443.2Z"/></g>
<g id="node-Pf"><circle class="tg" cx="405.6" cy="733.5" r="71"/>
<path class="tw" d="M405.6,733.5L405.6,662.5A71,71 0 0 1 476.56,735.73Z"/>
<path class="tr" d="M405.6,733.5L476.56,735.73A71,71 0 0 1 476.51,737.09Z"/>
<path class="tc" d="M405.6,733.5L334.61,734.37A71,71 0 0 1 334.74,729.04Z"/>
<path class="gb" d="M405.6,733.5L334.74,729.04A71,71 0 0 1 396.7,663.06Z"/>
<path class="cg" d="M405.6,733.5L396.7,663.06A71,71 0 0 1 405.6,662.5Z"/></g>
<g id="node-Pg"><circle class="gb" cx="642" cy="802.9" r="71"/>
<path class="tw" d="M642,802.9L642,731.9A71,71 0 0 1 711.47,817.54Z"/>
<path class="tr" d="M642,802.9L711.47,817.54A71,71 0 0 1 710.89,820.08Z"/>
<path class="tg" d="M642,802.9L710.89,820.08A71,71 0 0 1 596.36,857.29Z"/>
<path class="tc" d="M642,802.9L596.36,857.29A71,71 0 0 1 592.41,853.71Z"/>
<path class="cg" d="M642,802.9L634.45,732.3A71,71 0 0 1 642,731.9Z"/></g>
<g id="node-G0"><circle class="gb" cx="1162" cy="783.55" r="71"/></g>
<g id="node-G1"><circle class="gb" cx="1597" cy="767" r="71"/>
<path class="tg" d="M1597,767L1597,696A71,71 0 0 1 1599.23,696.04Z"/></g>
<g id="node-Pe"><circle class="tg" cx="561" cy="664.1" r="71"/>
<path class="tw" d="M561,664.1L561,593.1A71,71 0 0 1 623.22,629.89Z"/>
<path class="tr" d="M561,664.1L623.22,629.89A71,71 0 0 1 623.86,631.1Z"/>
<path class="tc" d="M561,664.1L490.07,667.2A71,71 0 0 1 490.01,662.74Z"/>
<path class="gb" d="M561,664.1L490.01,662.74A71,71 0 0 1 524.12,603.43Z"/>
<path class="cg" d="M561,664.1L524.12,603.43A71,71 0 0 1 561,593.1Z"/></g>
<g id="node-T0"><circle class="tg" cx="1058" cy="613.65" r="71"/>
<path class="tw" d="M1058,613.65L1058,542.65A71,71 0 0 1 1062.46,542.79Z"/></g>
<g id="node-T1"><circle class="tg" cx="1238" cy="581.6" r="71"/></g>
<g id="node-T3"><circle class="tg" cx="1450" cy="550.55" r="71"/></g>
<g id="node-T2"><circle class="tg" cx="1460" cy="521.6" r="71"/></g>
<g id="node-T6"><circle class="tg" cx="1746" cy="496.8" r="71"/></g>
<g id="node-T7"><circle class="tg" cx="1834" cy="480.25" r="71"/></g>
<g id="node-T4"><circle class="tg" cx="1599" cy="546.4" r="71"/></g>
<g id="node-T5"><circle class="tg" cx="1627" cy="612.6" r="71"/></g>
<g id="node-K0"><circle class="cg" cx="1188" cy="714.6" r="71"/>
<path class="tw" d="M1188,714.6L1188,643.6A71,71 0 0 1 1192.46,643.74Z"/>
<path class="tg" d="M1188,714.6L1192.46,643.74A71,71 0 0 1 1207.81,646.42Z"/>
<path class="tc" d="M1188,714.6L1207.81,646.42A71,71 0 0 1 1209.94,647.07Z"/>
<path class="gb" d="M1188,714.6L1209.94,647.07A71,71 0 0 1 1214.14,648.59Z"/></g>
<g id="node-K1"><circle class="cg" cx="1942" cy="695.3" r="71"/></g>
<g id="node-K2"><circle class="cg" cx="2045" cy="678.75" r="71"/></g>
<g id="node-Pb"><circle class="tw" cx="604.6" cy="294.95" r="71"/>
<path class="tr" d="M604.6,294.95L596.19,365.45A71,71 0 0 1 593.99,365.15Z"/>
<path class="tg" d="M604.6,294.95L593.99,365.15A71,71 0 0 1 543.74,331.52Z"/>
<path class="tc" d="M604.6,294.95L543.74,331.52A71,71 0 0 1 536.05,313.45Z"/>
<path class="gb" d="M604.6,294.95L536.05,313.45A71,71 0 0 1 603.73,223.96Z"/></g>
<g id="node-Pc"><circle class="tw" cx="761" cy="184.85" r="71"/>
<path class="tr" d="M761,184.85L699.2,149.89A71,71 0 0 1 701.05,146.81Z"/>
<path class="tg" d="M761,184.85L701.05,146.81A71,71 0 0 1 713.68,131.92Z"/>
<path class="tc" d="M761,184.85L713.68,131.92A71,71 0 0 1 737.77,117.76Z"/>
<path class="gb" d="M761,184.85L737.77,117.76A71,71 0 0 1 760.13,113.86Z"/></g>
<g id="node-Pd"><circle class="tw" cx="853" cy="134.9" r="71"/>
<path class="tr" d="M853,134.9L785.47,112.96A71,71 0 0 1 788.55,105.12Z"/>
<path class="tg" d="M853,134.9L788.55,105.12A71,71 0 0 1 791.89,98.76Z"/>
<path class="tc" d="M853,134.9L791.89,98.76A71,71 0 0 1 834.5,66.35Z"/>
<path class="gb" d="M853,134.9L834.5,66.35A71,71 0 0 1 852.13,63.9Z"/></g>
<g id="node-Pl"><circle class="tc" cx="1018" cy="109.35" r="71"/>
<path class="tw" d="M1018,109.35L1018,38.35A71,71 0 0 1 1031.3,39.61Z"/>
<path class="tr" d="M1018,109.35L1031.3,39.61A71,71 0 0 1 1032.16,39.78Z"/>
<path class="gb" d="M1018,109.35L1013.54,38.49A71,71 0 0 1 1018,38.35Z"/></g>
<g id="node-Pm"><circle class="tc" cx="1097" cy="80.4" r="71"/>
<path class="tw" d="M1097,80.4L1097,9.4A71,71 0 0 1 1123.94,14.71Z"/>
<path class="tr" d="M1097,80.4L1123.94,14.71A71,71 0 0 1 1127.23,16.16Z"/>
<path class="gb" d="M1097,80.4L1094.77,9.44A71,71 0 0 1 1097,9.4Z"/></g>
<g id="node-Q2"><circle class="tc" cx="1601" cy="55.6" r="71"/></g>
<g id="node-Q3"><circle class="tc" cx="1781" cy="39.05" r="71"/></g>
<g id="node-Q1"><circle class="tc" cx="1541" cy="105.2" r="71"/></g>
<g id="node-Pk"><circle class="tw" cx="1009" cy="234.8" r="71"/>
<path class="tc" d="M1009,234.8L1005.41,163.89A71,71 0 0 1 1007.27,163.82Z"/>
<path class="gb" d="M1009,234.8L1007.27,163.82A71,71 0 0 1 1009,163.8Z"/></g>
<g id="node-R1"><circle class="tw" cx="1375" cy="210" r="71"/></g>
<g id="node-R2"><circle class="tw" cx="1697" cy="193.45" r="71"/></g>
<g id="node-R3"><circle class="tw" cx="1757" cy="259.65" r="71"/></g>
<g id="node-S0"><circle class="gb" cx="1088" cy="405.1" r="71"/>
<path class="tw" d="M1088,405.1L1088,334.1A71,71 0 0 1 1092.46,334.24Z"/>
<path class="tg" d="M1088,405.1L1092.46,334.24A71,71 0 0 1 1094.68,334.41Z"/></g>
<g id="node-S2"><circle class="gb" cx="1208" cy="374.05" r="71"/></g>
<g id="node-S1"><circle class="gb" cx="1226" cy="345.1" r="71"/></g>
<g id="node-S3"><circle class="gb" cx="1461" cy="320.3" r="71"/></g>
<g id="node-S5"><circle class="gb" cx="1957" cy="303.75" r="71"/></g>
<g id="node-S4"><circle class="gb" cx="1572" cy="369.95" r="71"/></g>
<g id="node-S6"><circle class="gb" cx="1888" cy="436.1" r="71"/></g>
<g id="node-B"><circle class="tw" cx="355" cy="1755.25" r="71"/>
<path class="tr" d="M355,1755.25L403.6,1807A71,71 0 0 1 401.3,1809.1Z"/>
<path class="tg" d="M355,1755.25L401.3,1809.1A71,71 0 0 1 296.77,1795.87Z"/>
<path class="tc" d="M355,1755.25L296.77,1795.87A71,71 0 0 1 284,1755.25Z"/>
<path class="gb" d="M355,1755.25L284,1755.25A71,71 0 0 1 339.03,1686.07Z"/>
<path class="cg" d="M355,1755.25L339.03,1686.07A71,71 0 0 1 355,1684.25Z"/></g>
<g id="node-C"><circle class="tw" cx="672" cy="1695.6" r="71"/>
<path class="tr" d="M672,1695.6L734.22,1729.81A71,71 0 0 1 732.86,1732.17Z"/>
<path class="tg" d="M672,1695.6L732.86,1732.17A71,71 0 0 1 690.5,1764.15Z"/>
<path class="tc" d="M672,1695.6L690.5,1764.15A71,71 0 0 1 610.63,1731.31Z"/>
<path class="gb" d="M672,1695.6L610.63,1731.31A71,71 0 0 1 639.43,1632.51Z"/>
<path class="cg" d="M672,1695.6L639.43,1632.51A71,71 0 0 1 672,1624.6Z"/></g>
<g id="node-D"><circle class="tw" cx="800" cy="1619.1" r="71"/>
<path class="tr" d="M800,1619.1L834.21,1681.32A71,71 0 0 1 832.23,1682.36Z"/>
<path class="tg" d="M800,1619.1L832.23,1682.36A71,71 0 0 1 824.05,1685.9Z"/>
<path class="tc" d="M800,1619.1L824.05,1685.9A71,71 0 0 1 735.76,1649.33Z"/>
<path class="gb" d="M800,1619.1L735.76,1649.33A71,71 0 0 1 781.5,1550.55Z"/>
<path class="cg" d="M800,1619.1L781.5,1550.55A71,71 0 0 1 800,1548.1Z"/></g>
<g id="node-F"><circle class="tw" cx="865" cy="1663.2" r="71"/>
<path class="tr" d="M865,1663.2L925.21,1700.82A71,71 0 0 1 924,1702.7Z"/>
<path class="tg" d="M865,1663.2L924,1702.7A71,71 0 0 1 908.91,1719Z"/>
<path class="tc" d="M865,1663.2L908.91,1719A71,71 0 0 1 812.32,1710.8Z"/>
<path class="gb" d="M865,1663.2L812.32,1710.8A71,71 0 0 1 847.82,1594.31Z"/>
<path class="cg" d="M865,1663.2L847.82,1594.31A71,71 0 0 1 865,1592.2Z"/></g>
<g id="node-M1"><circle class="gb" cx="1366" cy="1643.9" r="71"/>
<path class="tw" d="M1366,1643.9L1366,1572.9A71,71 0 0 1 1370.46,1573.04Z"/>
<path class="tg" d="M1366,1643.9L1370.46,1573.04A71,71 0 0 1 1372.68,1573.21Z"/>
<path class="tc" d="M1366,1643.9L1372.68,1573.21A71,71 0 0 1 1374.9,1573.46Z"/></g>
<g id="node-M2"><circle class="gb" cx="1829" cy="1627.35" r="71"/></g>
<g id="node-H"><circle class="tc" cx="1079" cy="1575" r="71"/>
<path class="tw" d="M1079,1575L1079,1504A71,71 0 0 1 1092.3,1505.26Z"/>
<path class="tr" d="M1079,1575L1092.3,1505.26A71,71 0 0 1 1093.16,1505.43Z"/>
<path class="tg" d="M1079,1575L1093.16,1505.43A71,71 0 0 1 1096.66,1506.23Z"/>
<path class="gb" d="M1079,1575L1061.34,1506.23A71,71 0 0 1 1072.32,1504.31Z"/>
<path class="cg" d="M1079,1575L1072.32,1504.31A71,71 0 0 1 1079,1504Z"/></g>
<g id="node-I"><circle class="tc" cx="1501" cy="1555.65" r="71"/>
<path class="tw" d="M1501,1555.65L1501,1484.65A71,71 0 0 1 1503.23,1484.69Z"/></g>
<g id="node-J"><circle class="tc" cx="1774" cy="1539.1" r="71"/></g>
<g id="node-N1"><circle class="cg" cx="1921" cy="1772.1" r="71"/></g>
<g id="node-N2"><circle class="cg" cx="1951" cy="1751.4" r="71"/></g>
<g id="node-N3"><circle class="cg" cx="2011" cy="1732.15" r="71"/></g>
<g id="node-N4"><circle class="cg" cx="2086" cy="1715.6" r="71"/></g>
</g>
<g id="legend">
<text class="lt" x="2964" y="781">stat</text>
<circle class="cg" cx="2987" cy="820" r="6"/><text class="lg" x="3025" y="824.2">CG</text>
<circle class="gb" cx="2987" cy="866" r="6"/><text class="lg" x="3025" y="870.2">GB</text>
<circle class="tc" cx="2987" cy="912" r="6"/><text class="lg" x="3025" y="916.2">TC</text>
<circle class="tg" cx="2987" cy="958" r="6"/><text class="lg" x="3025" y="962.2">TG</text>
<circle class="tr" cx="2987" cy="1004" r="6"/><text class="lg" x="3025" y="1008.2">Tr</text>
<circle class="tw" cx="2987" cy="1050" r="6"/><text class="lg" x="3025" y="1054.2">Tw</text>
</g>
</svg>
